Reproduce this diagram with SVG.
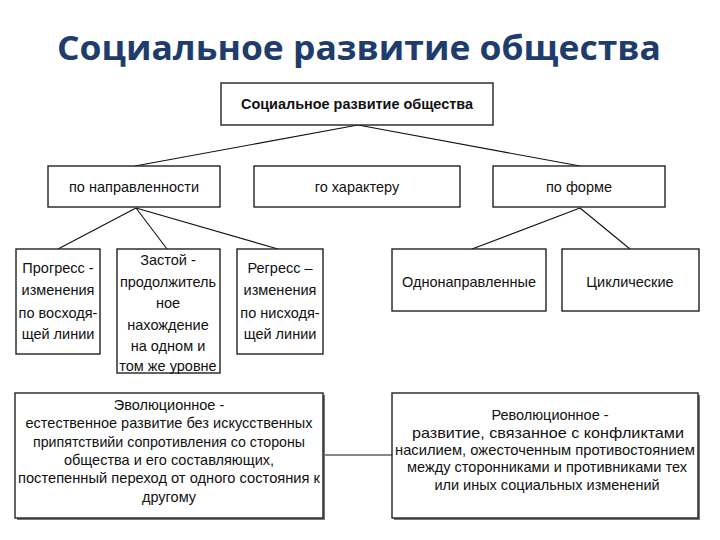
<svg xmlns="http://www.w3.org/2000/svg" width="720" height="540" viewBox="0 0 720 540">
<defs>
<style>
.t{font-family:"Liberation Sans",Arial,sans-serif;font-size:14.5px;fill:#111;text-anchor:middle}
.box{fill:#fff;stroke:#222;stroke-width:1.4}
.sh{fill:#777}
.ln{stroke:#111;stroke-width:1.1;fill:none}
</style>
</defs>
<rect width="720" height="540" fill="#fff"/>
<text x="359" y="60" font-family="'Open Sans','Noto Sans',sans-serif" font-weight="bold" font-size="34" fill="#1f3d6c" text-anchor="middle" textLength="604" lengthAdjust="spacingAndGlyphs">Социальное развитие общества</text>
<g id="connectors">
<line class="ln" x1="358" y1="125" x2="135" y2="166"/>
<line class="ln" x1="358" y1="125" x2="580" y2="166"/>
<line class="ln" x1="136" y1="208" x2="58" y2="249"/>
<line class="ln" x1="136" y1="208" x2="167" y2="249"/>
<line class="ln" x1="136" y1="208" x2="278" y2="249"/>
<line class="ln" x1="580" y1="208" x2="472" y2="249"/>
<line class="ln" x1="580" y1="208" x2="630" y2="249"/>
<line class="ln" x1="323" y1="455" x2="392" y2="455"/>
</g>
<g id="root">
<rect class="box" x="221" y="83" width="272" height="42"/>
<text class="t" x="357" y="109" font-weight="bold" font-size="15" textLength="232" lengthAdjust="spacingAndGlyphs">Социальное развитие общества</text>
</g>
<g id="napr">
<rect class="box" x="48" y="166" width="172" height="41"/>
<text class="t" x="134" y="192">по направленности</text>
</g>
<g id="harakter">
<rect class="box" x="254" y="166" width="206" height="41"/>
<text class="t" x="357" y="192">го характеру</text>
</g>
<g id="forma">
<rect class="box" x="493" y="166" width="172" height="41"/>
<text class="t" x="579" y="192">по форме</text>
</g>
<g id="progress">
<rect class="box" x="16" y="249" width="84" height="105"/>
<text class="t" x="58" y="273">Прогресс -</text>
<text class="t" x="58" y="295">изменения</text>
<text class="t" x="58" y="318">по восходя-</text>
<text class="t" x="58" y="339">щей линии</text>
</g>
<g id="zastoy">
<rect class="box" x="117" y="249" width="103" height="124"/>
<text class="t" x="168" y="265">Застой -</text>
<text class="t" x="168" y="287">продолжитель</text>
<text class="t" x="168" y="308">ное</text>
<text class="t" x="168" y="330">нахождение</text>
<text class="t" x="168" y="351">на одном и</text>
<text class="t" x="168" y="371">том же уровне</text>
</g>
<g id="regress">
<rect class="box" x="237" y="249" width="86" height="105"/>
<text class="t" x="280" y="273">Регресс –</text>
<text class="t" x="280" y="295">изменения</text>
<text class="t" x="280" y="318">по нисходя-</text>
<text class="t" x="280" y="339">щей линии</text>
</g>
<g id="odno">
<rect class="box" x="392" y="249" width="154" height="62"/>
<text class="t" x="469" y="287">Однонаправленные</text>
</g>
<g id="cikl">
<rect class="box" x="562" y="249" width="137" height="62"/>
<text class="t" x="630" y="287">Циклические</text>
</g>
<g id="evol">
<rect class="sh" x="17" y="395" width="308" height="125"/>
<rect class="box" x="15" y="393" width="308" height="125"/>
<text class="t" x="169" y="410" font-size="14">Эволюционное -</text>
<text class="t" x="169" y="428" font-size="14" textLength="287" lengthAdjust="spacingAndGlyphs">естественное развитие без искусственных</text>
<text class="t" x="169" y="447" font-size="14" textLength="272" lengthAdjust="spacingAndGlyphs">припятствийи сопротивления со стороны</text>
<text class="t" x="169" y="465" font-size="14">общества и его составляющих,</text>
<text class="t" x="169" y="483" font-size="14" textLength="302" lengthAdjust="spacingAndGlyphs">постепенный переход от одного состояния к</text>
<text class="t" x="169" y="502" font-size="14">другому</text>
</g>
<g id="revol">
<rect class="sh" x="394" y="395" width="306" height="125"/>
<rect class="box" x="392" y="393" width="306" height="125"/>
<text class="t" x="550" y="420" font-size="14">Революционное -</text>
<text class="t" x="548" y="438" font-size="14" textLength="272" lengthAdjust="spacingAndGlyphs">развитие, связанное с конфликтами</text>
<text class="t" x="545" y="455" font-size="14" textLength="300" lengthAdjust="spacingAndGlyphs">насилием, ожесточенным противостоянием</text>
<text class="t" x="547" y="472" font-size="14" textLength="280" lengthAdjust="spacingAndGlyphs">между сторонниками и противниками тех</text>
<text class="t" x="547" y="490" font-size="14">или иных социальных изменений</text>
</g>
</svg>
